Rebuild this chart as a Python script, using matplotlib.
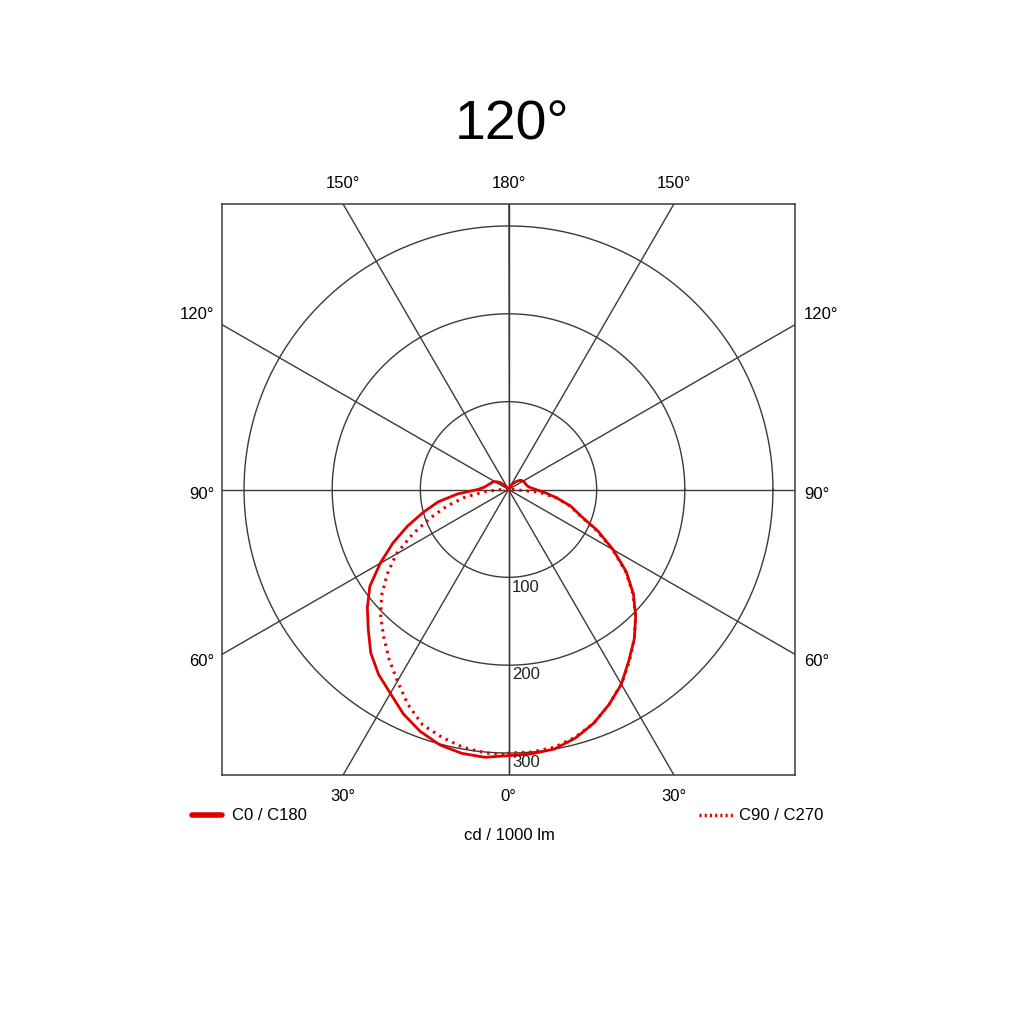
import numpy as np
import matplotlib
matplotlib.use("Agg")
import matplotlib.pyplot as plt
from matplotlib.lines import Line2D

plt.rcParams['font.family'] = ['Liberation Sans', 'DejaVu Sans']

# gamma angles (deg, 0 = straight down) and intensities in cd / 1000 lm
gamma = [0, 5, 10, 15, 20, 25, 30, 35, 40, 45, 50, 55, 60, 65, 70, 75, 80, 85,
         90, 95, 100, 105, 110, 115, 120, 125, 130, 135, 140, 145, 150, 155, 160]
c0 = [303, 302, 300, 293, 283, 270, 256, 238, 222, 204, 185, 163, 137, 112, 87,
      73, 56, 42, 31, 25, 22, 21, 20, 20, 19, 18, 16, 13, 10, 7, 4, 2, 0]
c180 = [303, 306, 305, 301, 293, 282, 268, 257, 243, 225, 209, 192, 168, 145, 122,
        100, 81, 58, 35, 28, 25, 23, 21, 20, 18, 15, 12, 8, 5, 2, 0, 0, 0]
c90 = [300, 300, 298, 292, 283, 270, 256, 239, 222, 204, 184, 162, 136, 110, 86,
       72, 55, 35, 5, 0, 0, 0, 0, 0, 0, 0, 0, 0, 0, 0, 0, 0, 0]
c270 = [302, 301, 298, 292, 285, 270, 252, 236, 220, 205, 188, 168, 147, 120, 94,
        72, 50, 26, 8, 2, 0, 0, 0, 0, 0, 0, 0, 0, 0, 0, 0, 0, 0]

rings = [100, 200, 300]
spokes = [0, 30, 60, 90, 120, 150, 180]
title = "120°"
red = "#e00000"
grid = "#3a3a3a"

fig = plt.figure(figsize=(10.24, 10.24), dpi=100)
ax = fig.add_axes([222 / 1024, 249 / 1024, 573 / 1024, 571 / 1024])
lim = 325
ax.set_xlim(-lim, lim)
ax.set_ylim(-lim, lim)
ax.set_xticks([])
ax.set_yticks([])
for s in ax.spines.values():
    s.set_color(grid)
    s.set_linewidth(1.1)

# rings and spokes
t = np.linspace(0, 2 * np.pi, 400)
for r in rings:
    ax.plot(r * np.cos(t), r * np.sin(t), color=grid, lw=1.0, zorder=1)
for a in spokes:
    ar = np.radians(a)
    for sgn in (-1, 1):
        ax.plot([0, sgn * 600 * np.sin(ar)], [0, -600 * np.cos(ar)],
                color=grid, lw=1.0, zorder=1)


def half(vals, side):
    g = np.radians(gamma)
    v = np.array(vals, dtype=float)
    return side * v * np.sin(g), -v * np.cos(g)


# C0 / C180 solid
xr, yr = half(c0, 1)
xl, yl = half(c180, -1)
ax.plot(np.concatenate([xl[::-1], xr]), np.concatenate([yl[::-1], yr]),
        color=red, lw=2.0, zorder=3, solid_joinstyle='round')
# C90 / C270 dotted
xr, yr = half(c90, 1)
xl, yl = half(c270, -1)
ax.plot(np.concatenate([xl[::-1], xr]), np.concatenate([yl[::-1], yr]),
        color=red, lw=2.2, ls=(0, (0.8, 1.6)), zorder=2)

# ring labels
for r in rings:
    ax.text(4, -r - 11, str(r), fontsize=12, ha='left', va='center',
            color='#222222', zorder=4)

# angle labels around box
tx = lim * np.tan(np.radians(30))
for x, lab in [(-tx, "150°"), (0, "180°"), (tx, "150°")]:
    ax.text(x, lim + 23, lab, fontsize=12, ha='center', va='center', clip_on=False)
for x, lab in [(-tx, "30°"), (0, "0°"), (tx, "30°")]:
    ax.text(x, -lim - 25, lab, fontsize=12, ha='center', va='center', clip_on=False)
for y, lab in [(199, "120°"), (-6, "90°"), (-196, "60°")]:
    ax.text(-lim - 9, y, lab, fontsize=12, ha='right', va='center', clip_on=False)
    ax.text(lim + 10, y, lab, fontsize=12, ha='left', va='center', clip_on=False)

# title
fig.text(512 / 1024, 1 - 125 / 1024, title, fontsize=40, ha='center', va='center')

# legend
ly = 1 - 815 / 1024
fig.add_artist(Line2D([192 / 1024, 222 / 1024], [ly, ly], color=red, lw=4,
                      solid_capstyle='round'))
fig.text(232 / 1024, ly, "C0 / C180", fontsize=12, ha='left', va='center')
fig.add_artist(Line2D([699 / 1024, 734 / 1024], [ly, ly], color=red, lw=2.5,
                      ls=(0, (0.6, 0.9))))
fig.text(739 / 1024, ly, "C90 / C270", fontsize=12, ha='left', va='center')
fig.text(509 / 1024, 1 - 835 / 1024, "cd / 1000 lm", fontsize=12,
         ha='center', va='center')

fig.savefig("out.png", dpi=100, facecolor='white')
